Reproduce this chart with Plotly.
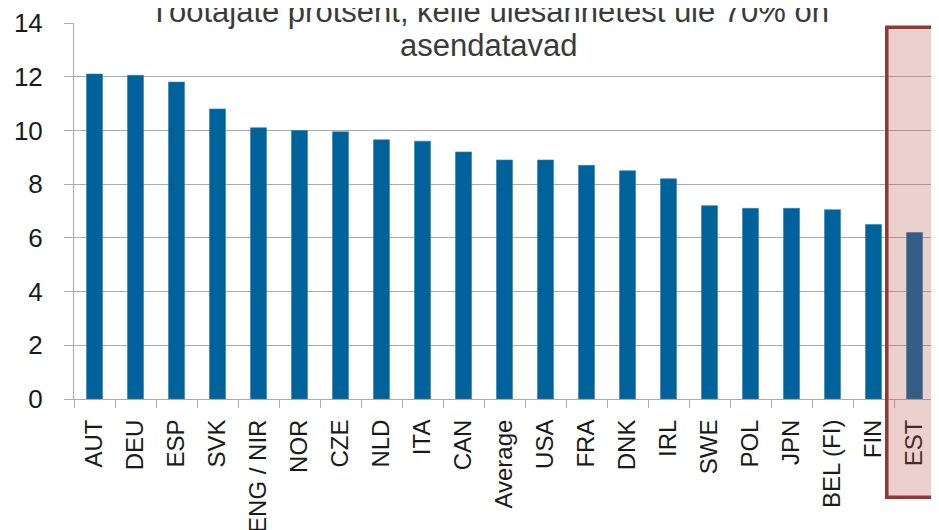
import plotly.graph_objects as go

categories = ["AUT", "DEU", "ESP", "SVK", "ENG / NIR", "NOR", "CZE", "NLD", "ITA", "CAN",
              "Average", "USA", "FRA", "DNK", "IRL", "SWE", "POL", "JPN", "BEL (FI)", "FIN", "EST"]
values = [12.1, 12.05, 11.8, 10.8, 10.1, 10.0, 9.95, 9.65, 9.6, 9.2,
          8.9, 8.9, 8.7, 8.5, 8.2, 7.2, 7.1, 7.1, 7.05, 6.5, 6.2]
y_ticks = [0, 2, 4, 6, 8, 10, 12, 14]
title_lines = ["Töötajate protsent, kelle ülesannetest üle 70% on", "asendatavad"]

FONT = "Liberation Sans, Arial, sans-serif"
GRID = "#ABABAB"
TICK_SIZE = 24

fig = go.Figure(go.Bar(
    x=categories, y=values,
    marker=dict(color="#00629B", line=dict(color="#2F7DB0", width=0.6)),
))

fig.update_layout(
    width=931, height=522,
    margin=dict(l=66, r=4, t=15, b=131),
    paper_bgcolor="white", plot_bgcolor="white",
    bargap=0.61,
    showlegend=False,
    font=dict(family=FONT, size=TICK_SIZE, color="#1A1A1A"),
)
fig.update_yaxes(
    range=[0, 14], tickvals=y_ticks, showgrid=True, gridcolor=GRID, gridwidth=1,
    showline=True, linecolor=GRID, linewidth=1, ticks="outside", ticklen=9,
    tickcolor=GRID, ticklabelstandoff=16, zeroline=False, automargin=False,
    tickfont=dict(family=FONT, size=26, color="#1A1A1A"),
)
fig.update_xaxes(
    type="category", showline=True, linecolor=GRID, linewidth=1, ticks="outside",
    ticklen=8, tickcolor=GRID, tickson="boundaries", tickangle=-90, automargin=False,
    tickfont=dict(family=FONT, size=TICK_SIZE, color="#1A1A1A"), ticklabelstandoff=10,
)

fig.add_annotation(text=title_lines[0], xref="paper", yref="paper", x=0.482, y=1.031,
                   xanchor="center", yanchor="middle", showarrow=False,
                   font=dict(family=FONT, size=31, color="#3A3A3A"))
fig.add_annotation(text=title_lines[1], xref="paper", yref="paper", x=0.482, y=0.94,
                   xanchor="center", yanchor="middle", showarrow=False,
                   font=dict(family=FONT, size=31, color="#3A3A3A"))

# highlight box around EST
fig.add_shape(type="rect", xref="paper", yref="paper",
              x0=0.944, x1=1.2, y0=-0.261, y1=0.989,
              fillcolor="rgba(185,87,80,0.28)",
              line=dict(color="#943634", width=3.5), layer="above")

fig.write_html("out.html")
